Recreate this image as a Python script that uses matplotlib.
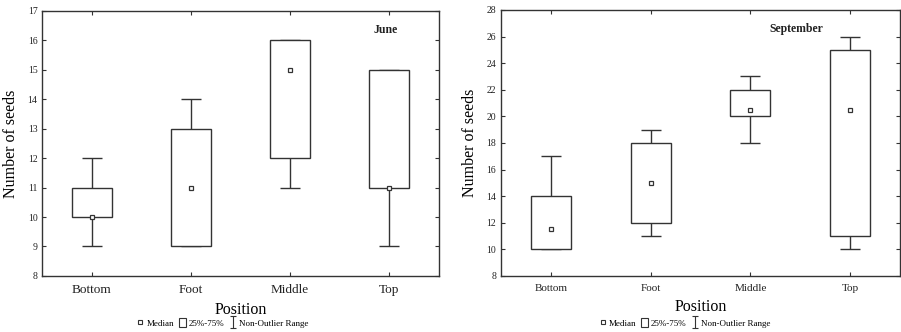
import numpy as np
import matplotlib.pyplot as plt
from matplotlib.patches import Patch
from matplotlib.lines import Line2D
from matplotlib.path import Path

plt.rcParams['font.family'] = ['Liberation Serif', 'DejaVu Serif']

positions = ["Bottom", "Foot", "Middle", "Top"]

# June
jun_med = [10, 11, 15, 11]
jun_q1 = [10, 9, 12, 11]
jun_q3 = [11, 13, 16, 15]
jun_lo = [9, 9, 11, 9]
jun_hi = [12, 14, 16, 15]

# September
sep_med = [11.5, 15, 20.5, 20.5]
sep_q1 = [10, 12, 20, 11]
sep_q3 = [14, 18, 22, 25]
sep_lo = [10, 11, 18, 10]
sep_hi = [17, 19, 23, 26]

ink = '#333333'
fig = plt.figure(figsize=(9.01, 3.32), dpi=100)

# I-beam marker for the whisker legend entry
ibeam = Path([(-0.6, 1), (0.6, 1), (0, 1), (0, -1), (-0.6, -1), (0.6, -1)],
             [Path.MOVETO, Path.LINETO, Path.MOVETO, Path.LINETO,
              Path.MOVETO, Path.LINETO])


def panel(rect, med, q1, q3, lo, hi, ylim, yticks, title, title_xy, xfs):
    ax = fig.add_axes(rect)
    x = np.arange(len(positions))
    med = np.array(med, float)
    lo = np.array(lo, float)
    hi = np.array(hi, float)
    ax.errorbar(x, med, yerr=[med - lo, hi - med], fmt='none',
                ecolor=ink, elinewidth=1, capsize=7, capthick=1, zorder=1)
    q1 = np.array(q1, float)
    q3 = np.array(q3, float)
    ax.bar(x, q3 - q1, bottom=q1, width=0.4, facecolor='white',
           edgecolor=ink, linewidth=1, zorder=2)
    ax.plot(x, med, 's', ms=3.5, mfc='white', mec=ink, mew=0.9, zorder=3)
    ax.set_xlim(-0.5, 3.5)
    ax.set_ylim(*ylim)
    ax.set_yticks(yticks)
    ax.set_xticks(x)
    ax.set_xticklabels(positions, fontsize=xfs)
    ax.tick_params(axis='y', labelsize=7, direction='in', right=True,
                   length=3, colors=ink, labelcolor='#222222')
    ax.tick_params(axis='x', direction='in', top=True, length=3, colors=ink,
                   labelcolor='#222222', pad=6)
    for s in ax.spines.values():
        s.set_color(ink)
        s.set_linewidth(1)
    ax.set_ylabel("Number of seeds", fontsize=11.5, labelpad=6)
    ax.set_xlabel("Position", fontsize=11.5, labelpad=4)
    ax.text(title_xy[0], title_xy[1], title, transform=ax.transAxes,
            fontsize=8.5, fontweight='bold', color='#222222',
            ha='center', va='center')
    return ax


axl = panel([0.047, 0.169, 0.440, 0.798], jun_med, jun_q1, jun_q3,
            jun_lo, jun_hi, (8, 17), np.arange(8, 18, 1), "June",
            (0.865, 0.93), 9.5)
axr = panel([0.556, 0.169, 0.443, 0.801], sep_med, sep_q1, sep_q3,
            sep_lo, sep_hi, (8, 28), np.arange(8, 29, 2), "September",
            (0.74, 0.93), 8)

for cx in [0.247, 0.76]:
    handles = [Line2D([], [], marker='s', ls='none', ms=3, mfc='white', mec=ink, mew=0.8),
               Patch(facecolor='white', edgecolor=ink, linewidth=0.8),
               Line2D([], [], marker=ibeam, ls='none', ms=8, mfc='none',
                      mec=ink, mew=0.8)]
    fig.legend(handles, ["Median", "25%-75%", "Non-Outlier Range"],
               loc='center', bbox_to_anchor=(cx, 0.028), ncol=3, frameon=False,
               fontsize=6.5, handlelength=0.8, handleheight=1.2,
               handletextpad=0.3, columnspacing=0.5, borderpad=0)

fig.savefig("out.png", dpi=100)
